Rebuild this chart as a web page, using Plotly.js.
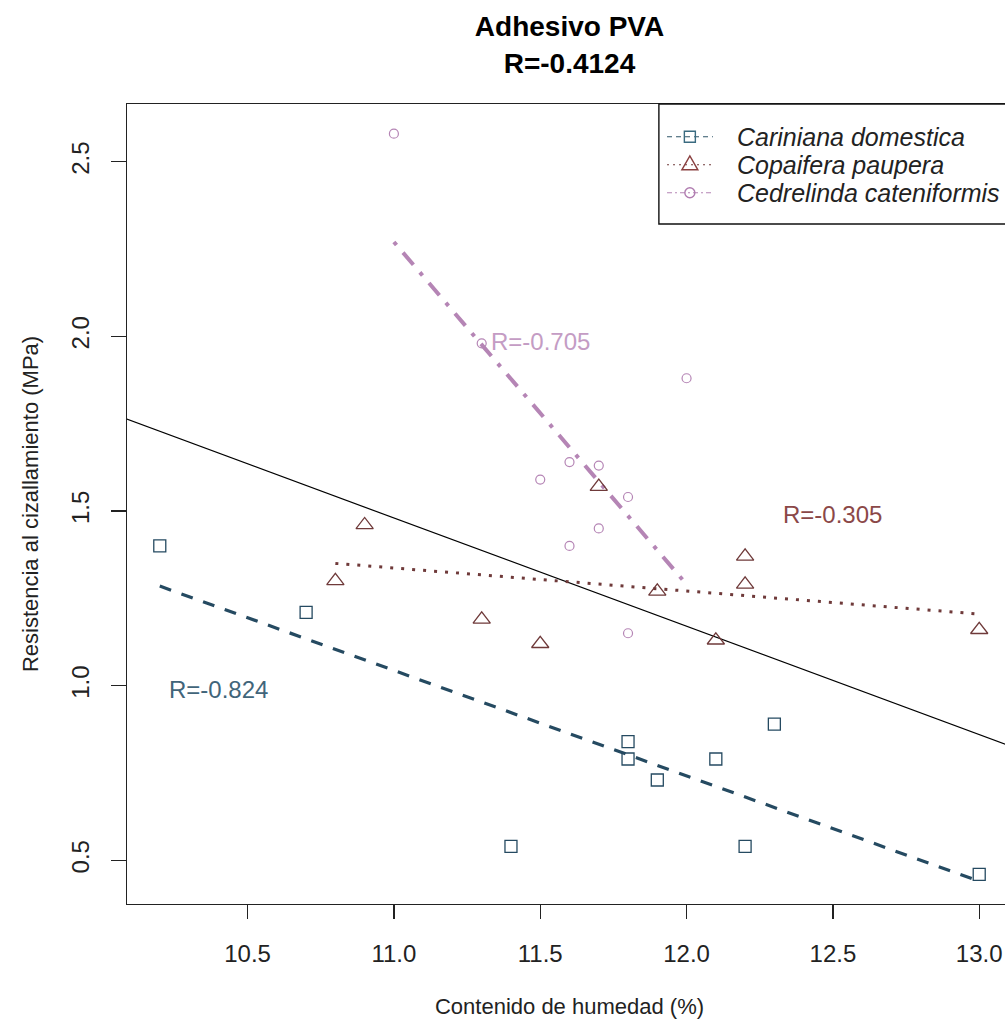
<!DOCTYPE html>
<html>
<head>
<meta charset="utf-8">
<script src="https://cdn.plot.ly/plotly-3.0.1.min.js"></script>
<style>
  html, body { margin: 0; padding: 0; overflow: hidden; background: #fff; }
  #chart { width: 1013px; height: 1023px; }
</style>
</head>
<body>
<div id="chart"></div>
<script>
// Moisture content (%) and shear strength (MPa) per species
const caX = [10.2, 10.7, 11.4, 11.8, 11.8, 11.9, 12.1, 12.2, 12.3, 13.0];
const caY = [1.40, 1.21, 0.54, 0.84, 0.79, 0.73, 0.79, 0.54, 0.89, 0.46];
const cpX = [10.8, 10.9, 11.3, 11.5, 11.7, 11.9, 12.1, 12.2, 12.2, 13.0];
const cpY = [1.30, 1.46, 1.19, 1.12, 1.57, 1.27, 1.13, 1.37, 1.29, 1.16];
const ccX = [11.0, 11.3, 11.5, 11.6, 11.6, 11.7, 11.7, 11.8, 11.8, 12.0];
const ccY = [2.58, 1.98, 1.59, 1.64, 1.40, 1.63, 1.45, 1.54, 1.15, 1.88];

// Fitted regression lines (end points)
const caFitX = [10.2, 13.0];  const caFitY = [1.285, 0.44];
const cpFitX = [10.8, 13.0];  const cpFitY = [1.35, 1.205];
const ccFitX = [11.0, 12.0];  const ccFitY = [2.27, 1.29];
const allFitX = [10.0, 13.2]; const allFitY = [1.790, 0.798];

const speciesNames = ['Cariniana domestica', 'Copaifera paupera', 'Cedrelinda cateniformis'];
const rLabels = ['R=-0.824', 'R=-0.305', 'R=-0.705'];
const rLabelX = [10.4, 12.5, 11.5];
const rLabelY = [0.99, 1.49, 1.985];
const xTicks = [10.5, 11.0, 11.5, 12.0, 12.5, 13.0];
const yTicks = [0.5, 1.0, 1.5, 2.0, 2.5];

const colBlue = '#254a61', colBlueTxt = '#41657a';
const colBrown = '#6f3a3a', colBrownTxt = '#8b4848';
const colPurple = '#b585b5', colPurpleTxt = '#c49cc4';
const FONT = 'Liberation Sans, Arial, sans-serif';

const traces = [
  // overall fit
  { x: allFitX, y: allFitY, mode: 'lines', hoverinfo: 'skip',
    line: { color: '#000', width: 1.2 } },
  // species fits
  { x: caFitX, y: caFitY, mode: 'lines', hoverinfo: 'skip',
    line: { color: colBlue, width: 3.2, dash: '12px,11px' } },
  { x: cpFitX, y: cpFitY, mode: 'lines', hoverinfo: 'skip',
    line: { color: colBrown, width: 3, dash: '3px,8px' } },
  { x: ccFitX, y: ccFitY, mode: 'lines', hoverinfo: 'skip',
    line: { color: colPurple, width: 4, dash: '4px,10px,16px,10px' } },
  // observations
  { x: caX, y: caY, mode: 'markers', name: speciesNames[0],
    marker: { symbol: 'square-open', size: 12, color: colBlue, line: { width: 1.3 } } },
  { x: cpX, y: cpY, mode: 'markers', name: speciesNames[1],
    marker: { symbol: 'triangle-up-open', size: 15, color: colBrown, line: { width: 1.3 } } },
  { x: ccX, y: ccY, mode: 'markers', name: speciesNames[2],
    marker: { symbol: 'circle-open', size: 9, color: colPurple, line: { width: 1.2 } } }
];

const annotations = rLabels.map((t, i) => ({
  x: rLabelX[i], y: rLabelY[i], xref: 'x', yref: 'y', text: t, showarrow: false,
  font: { family: FONT, size: 24, color: [colBlueTxt, colBrownTxt, colPurpleTxt][i] }
}));

// Key box in the upper right corner of the plotting area
const shapes = [{
  type: 'rect', xref: 'paper', yref: 'paper', x0: 0.601, x1: 1.0, y0: 0.85, y1: 1.0,
  line: { color: '#111', width: 1.4 }, fillcolor: '#fff', layer: 'above'
}];
const keyRowY = [0.959, 0.924, 0.889];
const keyLineX = [0.6102, 0.6621];
const keyMarkX = 0.636;
const keyTextX = 0.687;
const keyLineCol = ['#2f5568', '#6f3a3a', '#b585b5'];
const keyMarkCol = ['#3a6b80', '#8a4040', '#b07cb0'];
const keyDash = ['5px,4px', '2px,4px', '5px,3px,2px,3px'];
speciesNames.forEach((name, i) => {
  const yy = keyRowY[i];
  shapes.push({
    type: 'line', xref: 'paper', yref: 'paper', x0: keyLineX[0], x1: keyLineX[1], y0: yy, y1: yy,
    line: { color: keyLineCol[i], width: 1.1, dash: keyDash[i] }, layer: 'above'
  });
  const common = {
    xref: 'paper', yref: 'paper', xsizemode: 'pixel', ysizemode: 'pixel',
    xanchor: keyMarkX, yanchor: yy, layer: 'above',
    line: { color: keyMarkCol[i], width: 1.4 }, fillcolor: 'rgba(0,0,0,0)'
  };
  if (i === 0) shapes.push(Object.assign({ type: 'rect', x0: -5.5, x1: 5.5, y0: -5.5, y1: 5.5 }, common));
  if (i === 1) shapes.push(Object.assign({ type: 'path', path: 'M-8,-5 L8,-5 L0,9 Z' }, common));
  if (i === 2) shapes.push(Object.assign({ type: 'circle', x0: -5, x1: 5, y0: -5, y1: 5 }, common));
  annotations.push({
    x: keyTextX, y: yy, xref: 'paper', yref: 'paper', xanchor: 'left', yanchor: 'middle',
    text: name, showarrow: false,
    font: { family: FONT, size: 25, color: '#222', style: 'italic' }
  });
});

const layout = {
  width: 1013, height: 1023,
  margin: { l: 127, r: 1, t: 104, b: 119 },
  paper_bgcolor: '#fff', plot_bgcolor: '#fff',
  font: { family: FONT, color: '#222' },
  showlegend: false,
  title: {
    text: '<b>Adhesivo PVA</b><br><b>R=-0.4124</b>',
    font: { family: FONT, size: 28, color: '#000' },
    x: 0.5, xref: 'paper', xanchor: 'center',
    y: 0.9645, yref: 'container', yanchor: 'top'
  },
  xaxis: {
    range: [10.088, 13.112], tickvals: xTicks, ticktext: xTicks.map(v => v.toFixed(1)),
    showgrid: false, zeroline: false, showline: true, mirror: true,
    linecolor: '#222', linewidth: 1.4, ticks: 'outside', ticklen: 14, tickwidth: 1.3,
    tickcolor: '#222', tickfont: { family: FONT, size: 24, color: '#222' },
    ticklabelstandoff: 14,
    title: { text: 'Contenido de humedad (%)', font: { family: FONT, size: 22, color: '#222' }, standoff: 32 }
  },
  yaxis: {
    range: [0.375, 2.665], tickvals: yTicks, ticktext: yTicks.map(v => v.toFixed(1)),
    showgrid: false, zeroline: false, showline: true, mirror: true,
    linecolor: '#222', linewidth: 1.4, ticks: 'outside', ticklen: 15, tickwidth: 1.3,
    tickcolor: '#222', tickangle: -90, tickfont: { family: FONT, size: 24, color: '#222' },
    ticklabelstandoff: 12,
    title: { text: 'Resistencia al cizallamiento (MPa)', font: { family: FONT, size: 22, color: '#222' }, standoff: 22 }
  },
  annotations: annotations,
  shapes: shapes
};

Plotly.newPlot('chart', traces, layout, { displayModeBar: false, staticPlot: true });
</script>
</body>
</html>
